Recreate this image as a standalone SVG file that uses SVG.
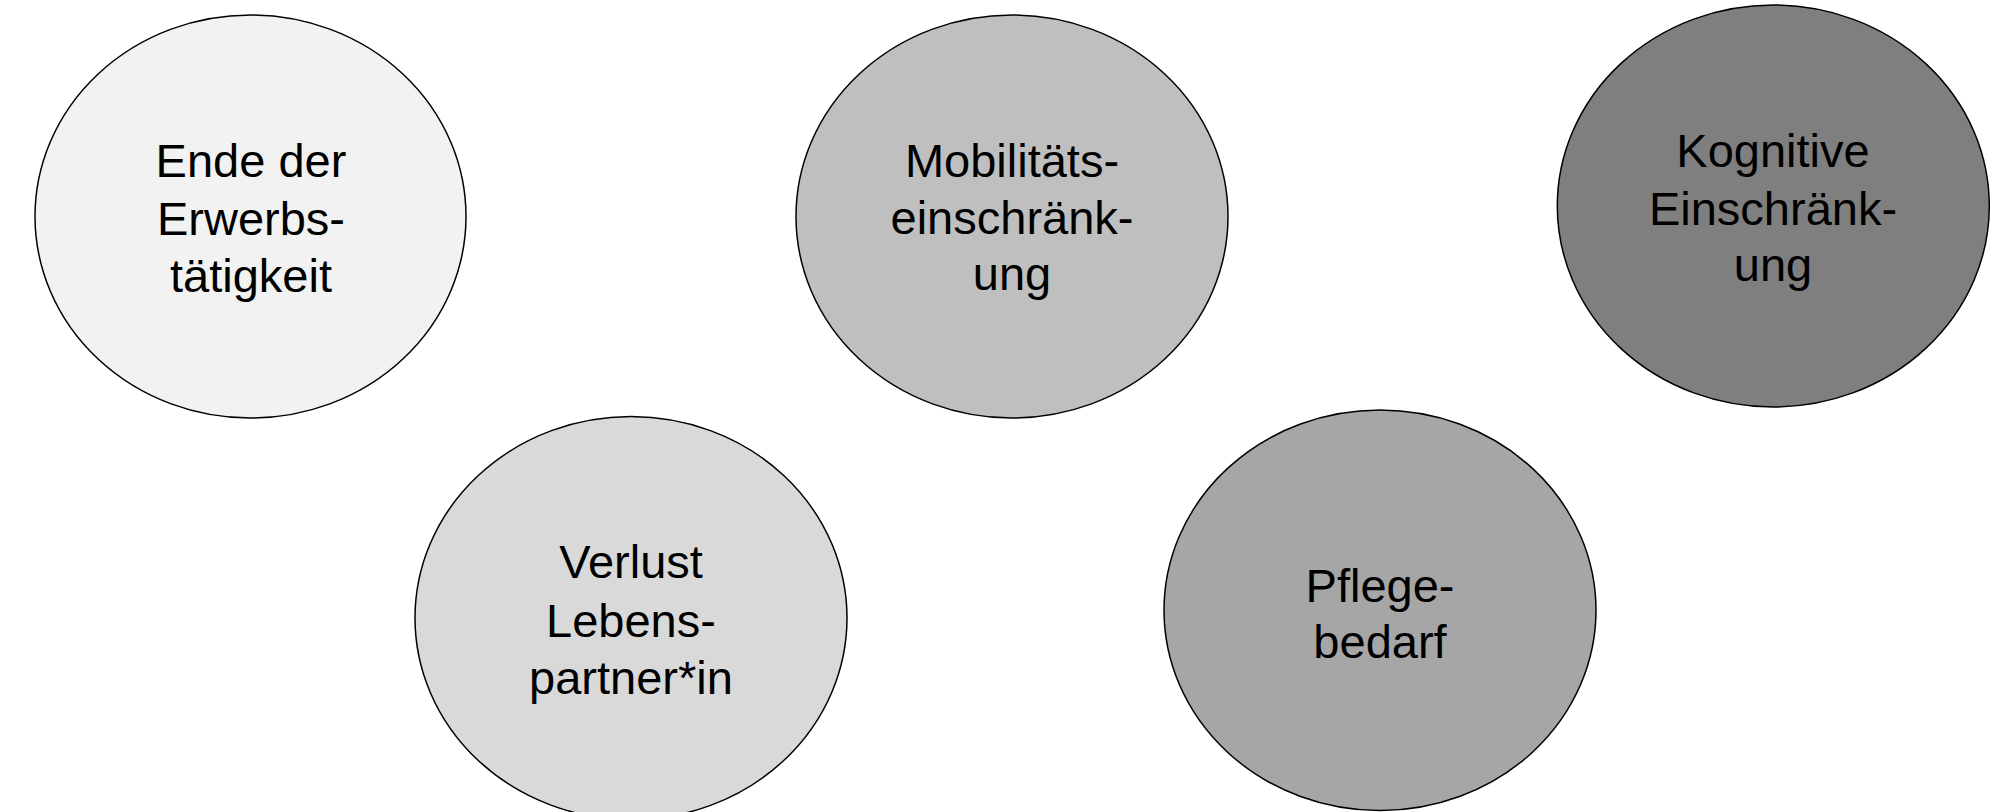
<svg xmlns="http://www.w3.org/2000/svg" width="2003" height="812" viewBox="0 0 2003 812">
<style>
.n{stroke:#000;stroke-width:1.5}
.t{font-family:"Liberation Sans",Arial,sans-serif;font-size:47px;fill:#000;text-anchor:middle}
</style>
<rect width="2003" height="812" fill="#fff"/>
<g id="connectors"/>
<g id="n1">
<ellipse class="n" cx="250.5" cy="216.5" rx="215.5" ry="201.5" fill="#f2f2f2"/>
<text class="t" x="251" y="176.5">Ende der</text>
<text class="t" x="251" y="234.5">Erwerbs-</text>
<text class="t" x="251" y="291.5">tätigkeit</text>
</g>
<g id="n2">
<ellipse class="n" cx="1012" cy="216.5" rx="216" ry="201.5" fill="#bfbfbf"/>
<text class="t" x="1012" y="176.5">Mobilitäts-</text>
<text class="t" x="1012" y="233.5">einschränk-</text>
<text class="t" x="1012" y="290">ung</text>
</g>
<g id="n3">
<ellipse class="n" cx="1773.3" cy="206" rx="216" ry="201" fill="#7f7f7f"/>
<text class="t" x="1773" y="166.5">Kognitive</text>
<text class="t" x="1773" y="224.5">Einschränk-</text>
<text class="t" x="1773" y="281">ung</text>
</g>
<g id="n4">
<ellipse class="n" cx="631" cy="618" rx="216" ry="201.5" fill="#d9d9d9"/>
<text class="t" x="631" y="578">Verlust</text>
<text class="t" x="631" y="636.5">Lebens-</text>
<text class="t" x="631" y="693.5">partner*in</text>
</g>
<g id="n5">
<ellipse class="n" cx="1380" cy="610.3" rx="216" ry="200.3" fill="#a6a6a6"/>
<text class="t" x="1380" y="601.5">Pflege-</text>
<text class="t" x="1380" y="658">bedarf</text>
</g>
</svg>
